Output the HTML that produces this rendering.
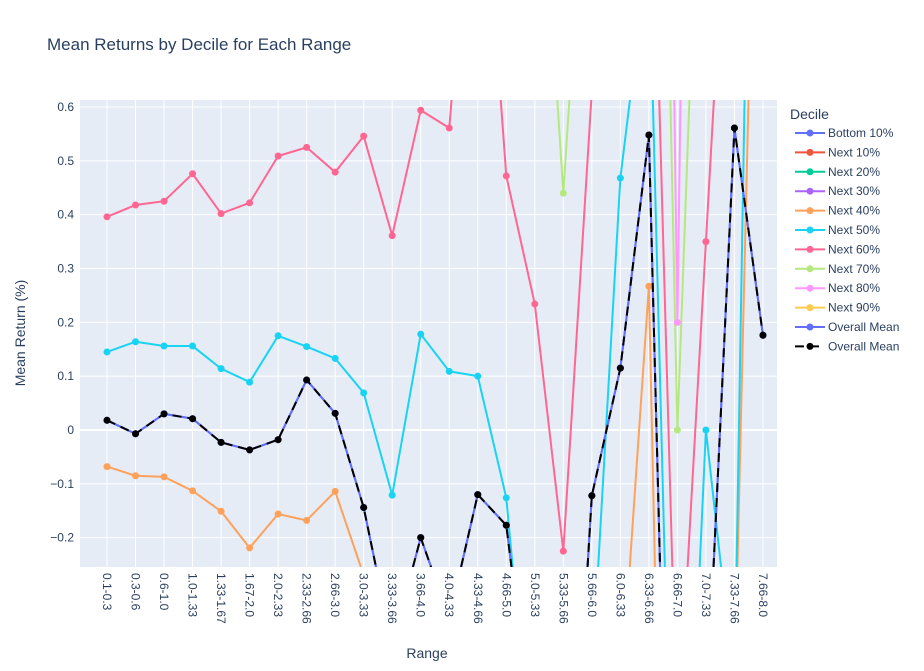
<!DOCTYPE html>
<html><head><meta charset="utf-8"><style>
html,body{margin:0;padding:0;background:#fff;font-family:"Liberation Sans",Arial,sans-serif;width:924px;height:671px;overflow:hidden}
svg{display:block}
svg text{font-family:"Liberation Sans",Arial,sans-serif;fill:#2a3f5f}
</style></head><body>
<svg id="chart" width="924" height="671" xmlns="http://www.w3.org/2000/svg">
<defs><clipPath id="clip"><rect x="80" y="100" width="697" height="467"/></clipPath></defs>
<text x="47" y="50" font-size="17">Mean Returns by Decile for Each Range</text>
<rect x="80" y="100" width="697" height="467" fill="#e5ecf6"/>
<g id="grid"></g>
<g id="series" clip-path="url(#clip)"></g>
<g id="ticks"></g>
<text x="427" y="658" font-size="14" text-anchor="middle">Range</text>
<text transform="translate(25,333) rotate(-90)" font-size="14" text-anchor="middle">Mean Return (%)</text>
<g id="legend"></g>
</svg>
<script>
const categories=["0.1-0.3","0.3-0.6","0.6-1.0","1.0-1.33","1.33-1.67","1.67-2.0","2.0-2.33","2.33-2.66","2.66-3.0","3.0-3.33","3.33-3.66","3.66-4.0","4.0-4.33","4.33-4.66","4.66-5.0","5.0-5.33","5.33-5.66","5.66-6.0","6.0-6.33","6.33-6.66","6.66-7.0","7.0-7.33","7.33-7.66","7.66-8.0"];
const yTicks=[-0.2,-0.1,0,0.1,0.2,0.3,0.4,0.5,0.6];
const yTickLabels=["−0.2","−0.1","0","0.1","0.2","0.3","0.4","0.5","0.6"];
const overallMean=[0.018,-0.007,0.03,0.021,-0.023,-0.037,-0.018,0.093,0.031,-0.144,-0.4,-0.2,-0.35,-0.12,-0.177,-0.6,-1.0,-0.122,0.115,0.548,-1.5,-0.55,0.561,0.176];
const bottom10=overallMean.slice();
const next10=Array(24).fill(3);
const next20=Array(24).fill(3.2);
const next30=Array(24).fill(3.4);
const next40=[-0.068,-0.085,-0.087,-0.113,-0.151,-0.219,-0.156,-0.168,-0.114,-0.27,-0.5,-0.5,-0.5,-0.5,-0.5,-0.5,-0.5,-0.5,-0.51,0.267,-2.2,-1,-0.49,1.75];
const next50=[0.145,0.164,0.156,0.156,0.114,0.089,0.175,0.155,0.133,0.069,-0.121,0.178,0.109,0.100,-0.126,-0.7,-0.7,-0.46,0.468,0.9,-1.16,0.0,-0.48,2.6];
const next60=[0.396,0.418,0.425,0.476,0.402,0.422,0.509,0.525,0.479,0.546,0.361,0.594,0.561,1.2,0.472,0.234,-0.225,0.63,1.5,1.3,-0.59,0.35,1.29,1.5];
const next70=[2,2,2,2,2,2,2,2,2,2,2,2,2,2,2,1.26,0.44,1.26,2,2.5,0.0,1.46,2,2];
const next80=[4,4,4,4,4,4,4,4,4,4,4,4,4,4,4,4,4,4,4,4,0.2,4,4,4];
const next90=Array(24).fill(3.6);
const names=["Bottom 10%","Next 10%","Next 20%","Next 30%","Next 40%","Next 50%","Next 60%","Next 70%","Next 80%","Next 90%","Overall Mean","Overall Mean"];
const colors=["#636efa","#EF553B","#00cc96","#ab63fa","#FFA15A","#19d3f3","#FF6692","#B6E880","#FF97FF","#FECB52","#636efa","#000000"];
const seriesData=[bottom10,next10,next20,next30,next40,next50,next60,next70,next80,next90,overallMean,overallMean];
const NS="http://www.w3.org/2000/svg";
const X=i=>107+i*28.52;
const Y=v=>430-v*538.3;
const PX0=80,PX1=777,PY0=100,PY1=567;
function mk(tag,attrs,parent){const e=document.createElementNS(NS,tag);for(const k in attrs)e.setAttribute(k,attrs[k]);parent.appendChild(e);return e;}
function clipSeg(x0,y0,x1,y1){
 let t0=0,t1=1;const dx=x1-x0,dy=y1-y0;
 const p=[-dx,dx,-dy,dy],q=[x0-PX0,PX1-x0,y0-PY0,PY1-y0];
 for(let k=0;k<4;k++){
  if(p[k]===0){if(q[k]<0)return null;}
  else{const r=q[k]/p[k];if(p[k]<0){if(r>t1)return null;if(r>t0)t0=r;}else{if(r<t0)return null;if(r<t1)t1=r;}}
 }
 return [x0+t0*dx,y0+t0*dy,x0+t1*dx,y0+t1*dy];
}
const grid=document.getElementById('grid'),ticks=document.getElementById('ticks');
categories.forEach((c,i)=>{
 const l=mk('line',{x1:X(i),x2:X(i),y1:100,y2:567,stroke:'#fff','stroke-width':1},grid);
 
 
 const t=mk('text',{transform:`translate(${X(i)-4},573) rotate(90)`,'font-size':12},ticks);
 t.textContent=c;
 
 
});
yTicks.forEach((v,i)=>{
 const l=mk('line',{x1:80,x2:777,y1:Y(v),y2:Y(v),stroke:'#fff','stroke-width':v===0?2:1},grid);
 
 
 const t=mk('text',{x:74,y:Y(v)+4,'font-size':12,'text-anchor':'end'},ticks);
 t.textContent=yTickLabels[i];
 
 
});
const sg=document.getElementById('series');
seriesData.forEach((d,s)=>{
 const g=mk('g',{},sg);
 
 
 let dstr='',lastX=null,lastY=null;
 for(let i=0;i<d.length-1;i++){
  const c=clipSeg(X(i),Y(d[i]),X(i+1),Y(d[i+1]));
  if(!c)continue;
  if(lastX===null||Math.abs(c[0]-lastX)>0.01||Math.abs(c[1]-lastY)>0.01)dstr+=`M${c[0].toFixed(2)},${c[1].toFixed(2)}`;
  dstr+=`L${c[2].toFixed(2)},${c[3].toFixed(2)}`;
  lastX=c[2];lastY=c[3];
 }
 if(dstr){
  const p=mk('path',{d:dstr,fill:'none',stroke:colors[s],'stroke-width':2,'stroke-dasharray':s===11?'9,6':'none'},g);
  
  
 }
 d.forEach((v,i)=>{
  const cy=Y(v);
  if(cy<PY0-4||cy>PY1+4)return;
  const c=mk('circle',{cx:X(i),cy:cy,r:3.5,fill:colors[s]},g);
  
  
 });
});
const lg=document.getElementById('legend');
const lt=mk('text',{x:790,y:119,'font-size':14},lg);
lt.textContent='Decile';


names.forEach((n,s)=>{
 const y=133+s*19.4;
 const g=mk('g',{},lg);
 
 
 mk('line',{x1:795,x2:825,y1:y,y2:y,stroke:colors[s],'stroke-width':2,'stroke-dasharray':s===11?'9,6':'none'},g);
 mk('circle',{cx:810,cy:y,r:3.5,fill:colors[s]},g);
 const t=mk('text',{x:828,y:y+4,'font-size':12},g);
 t.textContent=n;
});
</script>
</body></html>
